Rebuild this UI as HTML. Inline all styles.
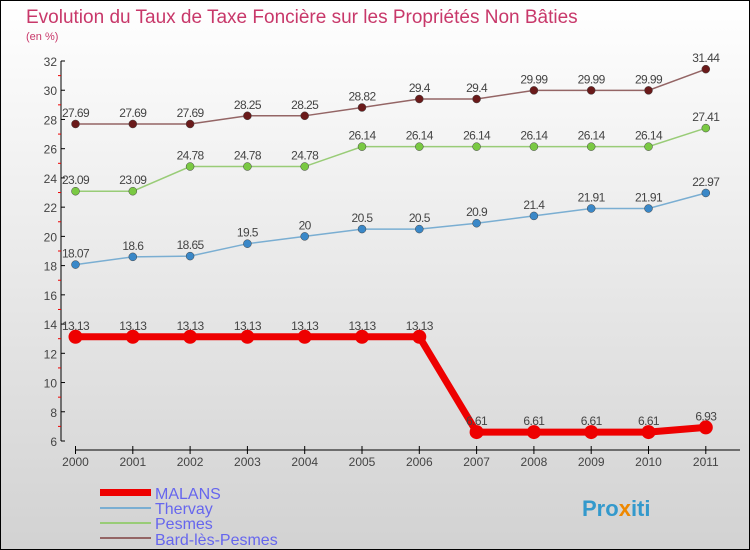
<!DOCTYPE html>
<html><head><meta charset="utf-8"><style>
body{margin:0}
#c{width:750px;height:550px;position:relative;box-sizing:border-box;border:1px solid #000;background:linear-gradient(#fff,#d2d2d2);font-family:"Liberation Sans",sans-serif;overflow:hidden}
</style></head><body>
<div id="c">
<svg width="750" height="550" style="position:absolute;left:-1px;top:-1px" id="svg">
<text x="26" y="23" font-size="19" fill="#c8386a">Evolution du Taux de Taxe Foncière sur les Propriétés Non Bâties</text>
<text x="26" y="40" font-size="11" fill="#c8386a">(en %)</text>
<g id="axes"></g><g id="series"></g>
<g>
<rect x="100" y="489" width="51" height="7" fill="#e00"/>
<text x="155" y="499" font-size="16" fill="#6666ee">MALANS</text>
<rect x="100" y="507" width="51" height="2" fill="#7aaed2"/>
<text x="155" y="514" font-size="16" fill="#6666ee">Thervay</text>
<rect x="100" y="522" width="51" height="2" fill="#99cc77"/>
<text x="155" y="529" font-size="16" fill="#6666ee">Pesmes</text>
<rect x="100" y="537" width="51" height="2" fill="#946565"/>
<text x="155" y="545" font-size="16" fill="#6666ee">Bard-lès-Pesmes</text>
</g>
<text x="582" y="516" font-size="22" font-weight="bold" fill="#3399cc">Pro<tspan fill="#ee8800">x</tspan>iti</text>
</svg>
</div>
<script>
const years=["2000","2001","2002","2003","2004","2005","2006","2007","2008","2009","2010","2011"];
const yTicks=[6,8,10,12,14,16,18,20,22,24,26,28,30,32];
const malans=[13.13,13.13,13.13,13.13,13.13,13.13,13.13,6.61,6.61,6.61,6.61,6.93];
const thervay=[18.07,18.6,18.65,19.5,20,20.5,20.5,20.9,21.4,21.91,21.91,22.97];
const pesmes=[23.09,23.09,24.78,24.78,24.78,26.14,26.14,26.14,26.14,26.14,26.14,27.41];
const bard=[27.69,27.69,27.69,28.25,28.25,28.82,29.4,29.4,29.99,29.99,29.99,31.44];
const NS="http://www.w3.org/2000/svg";
const X=i=>75.5+i*57.3;
const Y=v=>441-(v-6)*(380/26);
function mk(t,a,p){const e=document.createElementNS(NS,t);for(const k in a)e.setAttribute(k,a[k]);p.appendChild(e);return e;}
const ax=document.getElementById('axes');
const yl=mk('line',{x1:61,y1:Y(32),x2:61,y2:Y(6),stroke:'#000'},ax);


yTicks.forEach(v=>{
 mk('line',{x1:61,x2:65,y1:Y(v),y2:Y(v),stroke:'#000'},ax);
 if(v<32) mk('line',{x1:58,x2:61,y1:Y(v+1),y2:Y(v+1),stroke:'#e00'},ax);
 const t=mk('text',{x:57,y:Y(v)+5,'font-size':12,'text-anchor':'end',fill:'#444'},ax);t.textContent=v;
 
 
});
const xl=mk('line',{x1:X(0),y1:450,x2:740,y2:450,stroke:'#000'},ax);


years.forEach((y,i)=>{
 mk('line',{x1:X(i),x2:X(i),y1:446,y2:454,stroke:'#000'},ax);
 const t=mk('text',{x:X(i),y:466,'font-size':12,'text-anchor':'middle',fill:'#444'},ax);t.textContent=y;
 
 
});
const sg=document.getElementById('series');
function series(d,name,col,dot,w,r){
 const g=mk('g',{},sg);
 
 
 const p=mk('polyline',{points:d.map((v,i)=>X(i)+','+Y(v)).join(' '),fill:'none',stroke:col,'stroke-width':w},g);
 
 
 d.forEach((v,i)=>{
  const c=mk('circle',{cx:X(i),cy:Y(v),r:r,fill:dot,stroke:name=='malans'?'none':'#444','stroke-width':0.5},g);
  
  
  const t=mk('text',{x:X(i),y:Y(v)-7,'font-size':12,'text-anchor':'middle',fill:'#444','letter-spacing':'-0.6'},g);
  t.textContent=String(v);
  
  
 });
}
series(bard,'bard','#946565','#6a1a1a',1.5,4);
series(pesmes,'pesmes','#99cc77','#7ac943',1.5,4);
series(thervay,'thervay','#7aaed2','#3a88c8',1.5,4);
series(malans,'malans','#e00','#e00',7,7);
</script>
</body></html>
